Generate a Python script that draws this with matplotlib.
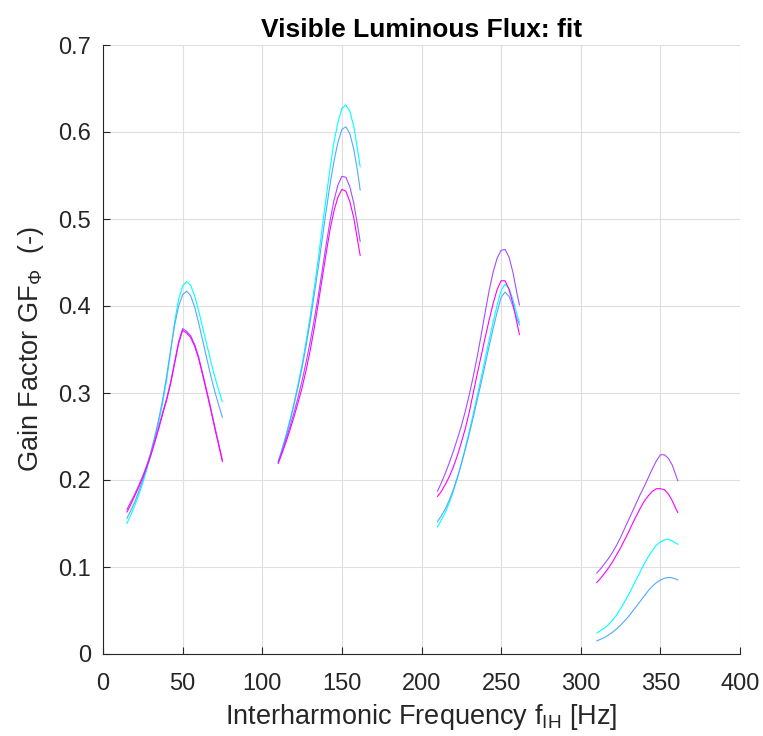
import matplotlib
matplotlib.use("Agg")
import matplotlib.pyplot as plt

plt.rcParams['font.family'] = ['Liberation Sans', 'DejaVu Sans']
plt.rcParams['mathtext.fontset'] = 'custom'
plt.rcParams['mathtext.rm'] = 'Liberation Sans'
plt.rcParams['mathtext.it'] = 'Liberation Sans'
plt.rcParams['mathtext.bf'] = 'Liberation Sans:bold'

series_names = ["cyan", "blue", "purple", "magenta"]
series_colors = ["#00FFFF", "#55A8FF", "#A64DFF", "#FF00FF"]

# Group 1 (around 50 Hz)
f1 = [15, 17.5, 20, 22.5, 25, 27.5, 30, 32.5, 35, 37.5, 40, 42.5, 45, 47.5, 50,
      52.5, 55, 57.5, 60, 62.5, 65, 67.5, 70, 72.5, 75]
g1_cyan    = [0.150, 0.160, 0.171, 0.183, 0.197, 0.212, 0.229, 0.247, 0.267, 0.289, 0.315, 0.348, 0.382,
              0.408, 0.423, 0.428, 0.424, 0.412, 0.395, 0.376, 0.357, 0.338, 0.320, 0.304, 0.290]
g1_blue    = [0.156, 0.165, 0.175, 0.187, 0.200, 0.215, 0.232, 0.250, 0.270, 0.293, 0.320, 0.350, 0.378,
              0.400, 0.413, 0.417, 0.412, 0.399, 0.381, 0.361, 0.341, 0.321, 0.303, 0.287, 0.272]
g1_purple  = [0.166, 0.175, 0.184, 0.194, 0.205, 0.217, 0.230, 0.245, 0.261, 0.278, 0.294, 0.313, 0.336,
              0.359, 0.374, 0.371, 0.366, 0.356, 0.342, 0.323, 0.304, 0.284, 0.263, 0.243, 0.223]
g1_magenta = [0.163, 0.172, 0.182, 0.192, 0.203, 0.215, 0.228, 0.243, 0.259, 0.276, 0.292, 0.311, 0.334,
              0.357, 0.372, 0.369, 0.364, 0.354, 0.340, 0.321, 0.302, 0.282, 0.261, 0.241, 0.221]

# Group 2 (around 150 Hz)
f2 = [110, 112.5, 115, 117.5, 120, 122.5, 125, 127.5, 130, 132.5, 135, 137.5, 140,
      142.5, 145, 147.5, 150, 152.5, 155, 157.5, 160, 161.5]
g2_cyan    = [0.221, 0.236, 0.252, 0.270, 0.289, 0.310, 0.333, 0.359, 0.387, 0.419, 0.452, 0.488, 0.523,
              0.557, 0.588, 0.611, 0.627, 0.631, 0.624, 0.606, 0.578, 0.560]
g2_blue    = [0.221, 0.235, 0.251, 0.268, 0.287, 0.307, 0.329, 0.354, 0.381, 0.411, 0.442, 0.475, 0.508,
              0.539, 0.566, 0.588, 0.603, 0.606, 0.598, 0.580, 0.553, 0.533]
g2_purple  = [0.220, 0.233, 0.247, 0.262, 0.278, 0.295, 0.314, 0.335, 0.358, 0.383, 0.410, 0.439, 0.469,
              0.497, 0.521, 0.539, 0.549, 0.548, 0.537, 0.518, 0.491, 0.474]
g2_magenta = [0.219, 0.231, 0.244, 0.258, 0.273, 0.289, 0.306, 0.326, 0.348, 0.373, 0.401, 0.430, 0.459,
              0.487, 0.509, 0.525, 0.534, 0.532, 0.520, 0.501, 0.474, 0.458]

# Group 3 (around 250 Hz)
f3 = [210, 212.5, 215, 217.5, 220, 222.5, 225, 227.5, 230, 232.5, 235, 237.5, 240,
      242.5, 245, 247.5, 250, 252.5, 255, 257.5, 260, 261.5]
g3_cyan    = [0.146, 0.154, 0.163, 0.174, 0.187, 0.202, 0.219, 0.237, 0.256, 0.276, 0.297, 0.318, 0.340,
              0.361, 0.382, 0.401, 0.418, 0.425, 0.420, 0.407, 0.390, 0.381]
g3_blue    = [0.152, 0.159, 0.167, 0.177, 0.189, 0.203, 0.218, 0.235, 0.253, 0.272, 0.292, 0.312, 0.333,
              0.354, 0.374, 0.393, 0.410, 0.416, 0.411, 0.399, 0.385, 0.378]
g3_purple  = [0.187, 0.197, 0.208, 0.220, 0.233, 0.247, 0.262, 0.279, 0.298, 0.319, 0.342, 0.367, 0.393,
              0.418, 0.439, 0.455, 0.464, 0.465, 0.456, 0.438, 0.414, 0.401]
g3_magenta = [0.181, 0.187, 0.195, 0.204, 0.215, 0.228, 0.243, 0.259, 0.278, 0.300, 0.322, 0.343, 0.364,
              0.384, 0.403, 0.419, 0.429, 0.429, 0.419, 0.402, 0.380, 0.367]

# Group 4 (around 350 Hz)
f4 = [310, 312.5, 315, 317.5, 320, 322.5, 325, 327.5, 330, 332.5, 335, 337.5, 340,
      342.5, 345, 347.5, 350, 352.5, 355, 357.5, 360, 361]
g4_cyan    = [0.024, 0.027, 0.030, 0.034, 0.039, 0.045, 0.052, 0.060, 0.068, 0.077, 0.086, 0.095, 0.104,
              0.112, 0.119, 0.125, 0.129, 0.131, 0.132, 0.130, 0.127, 0.126]
g4_blue    = [0.015, 0.017, 0.019, 0.022, 0.025, 0.029, 0.033, 0.038, 0.043, 0.049, 0.055, 0.061, 0.067,
              0.073, 0.078, 0.082, 0.085, 0.087, 0.088, 0.0875, 0.086, 0.085]
g4_purple  = [0.093, 0.098, 0.104, 0.110, 0.117, 0.125, 0.134, 0.144, 0.154, 0.164, 0.174, 0.184, 0.193,
              0.203, 0.213, 0.222, 0.229, 0.229, 0.225, 0.217, 0.204, 0.199]
g4_magenta = [0.082, 0.087, 0.093, 0.099, 0.106, 0.114, 0.122, 0.131, 0.140, 0.150, 0.159, 0.168, 0.176,
              0.182, 0.187, 0.190, 0.190, 0.189, 0.184, 0.176, 0.166, 0.1625]

groups = [
    (f1, [g1_cyan, g1_blue, g1_purple, g1_magenta]),
    (f2, [g2_cyan, g2_blue, g2_purple, g2_magenta]),
    (f3, [g3_cyan, g3_blue, g3_purple, g3_magenta]),
    (f4, [g4_cyan, g4_blue, g4_purple, g4_magenta]),
]

xticks = [0, 50, 100, 150, 200, 250, 300, 350, 400]
yticks = [0, 0.1, 0.2, 0.3, 0.4, 0.5, 0.6, 0.7]
ytick_labels = ["0", "0.1", "0.2", "0.3", "0.4", "0.5", "0.6", "0.7"]

fig = plt.figure(figsize=(7.63, 7.36), dpi=100)
ax = fig.add_axes([103 / 763, 1 - 654 / 736, (740 - 103) / 763, (654 - 45) / 736])

for fx, ys in groups:
    for y, c in zip(ys, series_colors):
        ax.plot(fx, y, color=c, lw=0.8, solid_joinstyle='round', solid_capstyle='round')

ax.set_xlim(0, 400)
ax.set_ylim(0, 0.7)
ax.set_xticks(xticks)
ax.set_yticks(yticks)
ax.set_yticklabels(ytick_labels)
ax.grid(True, color='#DFDFDF', lw=0.8)
ax.set_axisbelow(True)
for s in ['top', 'right']:
    ax.spines[s].set_visible(False)
for s in ['left', 'bottom']:
    ax.spines[s].set_color('#262626')
    ax.spines[s].set_linewidth(0.8)
ax.tick_params(direction='in', length=5, width=0.8, colors='#262626', labelsize=17)
ax.tick_params(axis='x', pad=13.5)
ax.tick_params(axis='y', pad=8.5)

ax.set_xlabel("Interharmonic Frequency f$_{\\mathrm{IH}}$ [Hz]", fontsize=19.5, color='#262626', labelpad=5)
ax.set_ylabel("Gain Factor GF$_{\\Phi}$  (-)", fontsize=19.5, color='#262626', labelpad=9)
ax.set_title("Visible Luminous Flux: fit", fontsize=19, fontweight='bold', pad=6)

fig.savefig("out.png", dpi=100)
